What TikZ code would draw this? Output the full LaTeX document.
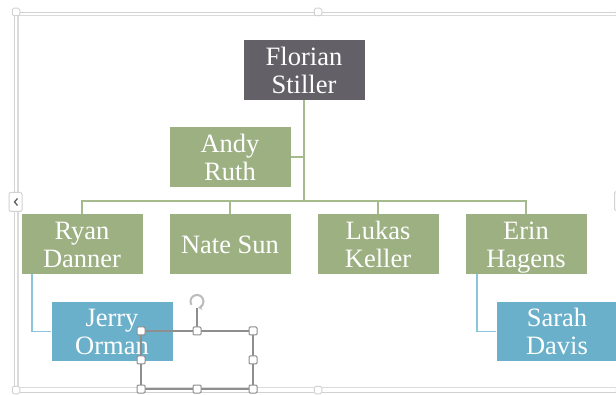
\documentclass[tikz,border=0pt]{standalone}
\usepackage{fontspec}
\setmainfont{Liberation Serif}
\usetikzlibrary{arrows.meta}
\definecolor{bossgray}{HTML}{646068}
\definecolor{boxgreen}{HTML}{9CB082}
\definecolor{boxblue}{HTML}{6AB0CA}
\definecolor{linegreen}{HTML}{A5BB8C}
\definecolor{lineblue}{HTML}{8BC5DB}
\definecolor{selgray}{HTML}{8E8E8E}
\definecolor{framegray}{HTML}{D2D2D2}
\newcommand{\orgln}[1]{\raisebox{0pt}[18.5pt][0pt]{#1}}
\tikzset{
  box/.style={rectangle, minimum width=121pt, minimum height=60pt, inner sep=0pt,
    text=white, align=center, font=\fontsize{26.5}{28}\selectfont},
  bossbox/.style={box, fill=bossgray},
  greenbox/.style={box, fill=boxgreen},
  bluebox/.style={box, fill=boxblue, minimum height=59pt},
  gline/.style={draw=linegreen, line width=1.8pt},
  bline/.style={draw=lineblue, line width=1.8pt},
  handle/.style={rectangle, rounded corners=1.2pt, minimum size=8pt, inner sep=0pt,
    fill=white, draw=selgray, line width=1pt},
  fhandle/.style={rectangle, rounded corners=1.5pt, minimum size=7.5pt, inner sep=0pt,
    fill=white, draw=framegray, line width=1pt},
  sidetab/.style={rectangle, rounded corners=2pt, minimum width=13pt, minimum height=19pt,
    inner sep=0pt, fill=white, draw=framegray, line width=1pt},
}
\begin{document}
\begin{tikzpicture}[x=1pt,y=-1pt]
\useasboundingbox (0,0) rectangle (616,395);
% container frame
\draw[framegray, line width=1.3pt] (14.5,12.5) rectangle (624,392.5);
\draw[framegray!80, line width=1.2pt] (18,15.5) rectangle (620,387.5);
\node[fhandle] (ftl) at (16,12) {};
\node[fhandle] (ftm) at (318,12) {};
\node[fhandle] (ftr) at (620,12) {};
\node[fhandle] (fbl) at (16,390) {};
\node[fhandle] (fbm) at (318,390) {};
\node[fhandle] (fbr) at (620,390) {};
\node[sidetab] (ltab) at (15.5,202) {};
\draw[gray!75!black, line width=1.3pt] (17.5,198.5) -- (14.5,202) -- (17.5,205.5);
\node[sidetab] (rtab) at (621,201) {};
% org chart nodes
\node[bossbox] (florian) at (304,70) {\orgln{Florian}\\\orgln{Stiller}};
\node[greenbox] (andy) at (230,157) {\orgln{Andy}\\\orgln{Ruth}};
\node[greenbox] (ryan) at (82,244) {\orgln{Ryan}\\\orgln{Danner}};
\node[greenbox] (nate) at (230,244) {\orgln{Nate Sun}};
\node[greenbox] (lukas) at (378,244) {\orgln{Lukas}\\\orgln{Keller}};
\node[greenbox] (erin) at (526,244) {\orgln{Erin}\\\orgln{Hagens}};
\node[bluebox] (jerry) at (112,331.5) {\orgln{Jerry}\\\orgln{Orman}};
\node[bluebox] (sarah) at (557,331.5) {\orgln{Sarah}\\\orgln{Davis}};
% connectors
\coordinate (bus) at (304,201);
\draw[gline] (florian.south) -- (bus);
\draw[gline] (ryan.north) |- (bus) -| (erin.north);
\draw[gline] (nate.north) -- (nate.north |- bus);
\draw[gline] (lukas.north) -- (lukas.north |- bus);
\draw[gline] (andy.east) -- (andy.east -| bus);
\draw[bline] ([xshift=11pt]ryan.south west) |- (jerry.west);
\draw[bline] ([xshift=11.5pt]erin.south west) |- (sarah.west);
% selected empty shape
\coordinate (sa) at (141,331);
\coordinate (sb) at (253,389);
\draw[selgray, line width=1.2pt] (sa) rectangle (sb);
\coordinate (rot) at (197,301.5);
\draw[selgray, line width=1.2pt] (197,331) -- (197,308.5);
\draw[selgray!60, line width=2pt, -{Stealth[length=4pt,width=5.5pt]}]
  ([shift={(150:6.5)}]rot) arc (150:440:6.5);
\node[handle] (h1) at (141,331) {};
\node[handle] (h2) at (197,331) {};
\node[handle] (h3) at (253,331) {};
\node[handle] (h4) at (141,360) {};
\node[handle] (h5) at (253,360) {};
\node[handle] (h6) at (141,389) {};
\node[handle] (h7) at (197,389) {};
\node[handle] (h8) at (253,389) {};
\end{tikzpicture}
\end{document}
